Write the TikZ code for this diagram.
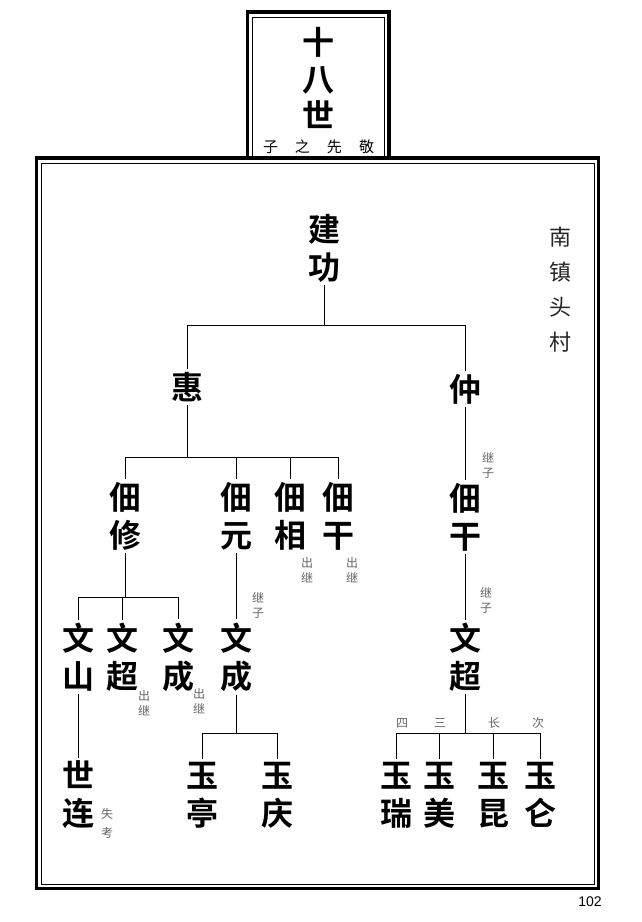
\documentclass[tikz,border=0pt]{standalone}
\usepackage{fontspec}
\newfontfamily\cjk{Noto Sans CJK SC}
\newfontfamily\cjkb{Noto Sans CJK SC Bold}
\newfontfamily\latinsans{Liberation Sans}
\begin{document}
\begin{tikzpicture}[x=1pt,y=-1pt,
  person/.style={font=\cjkb\fontsize{32}{38}\selectfont, align=center, inner sep=3pt},
  note/.style={font=\cjk\fontsize{12}{15}\selectfont, align=center, text=black!60, inner sep=0pt},
  village/.style={font=\cjk\fontsize{22}{35}\selectfont, align=center, inner sep=0pt, text=black!85},
  gen/.style={font=\cjkb\fontsize{32}{36.5}\selectfont, align=center, inner sep=0pt},
  conn/.style={line width=0.9pt},
  thickframe/.style={line width=3.5pt},
  thinframe/.style={line width=1pt}]
\useasboundingbox (0,0) rectangle (642,922);
% frames
\draw[thickframe] (36.7,158) rectangle (598.5,888.5);
\draw[thinframe] (41,163.5) rectangle (594.5,884);
\draw[thickframe] (247.5,158) -- (247.5,12) -- (389,12) -- (389,158);
\draw[thinframe] (252.5,157) -- (252.5,17) -- (384.5,17) -- (384.5,157);
% generation box
\node[gen] (gen) at (318,78) {十\\八\\世};
\node[font=\cjk\fontsize{15}{18}\selectfont, inner sep=0pt] (title) at (318.5,147) {子\hskip17pt 之\hskip17pt 先\hskip17pt 敬};
% village
\node[village] (village) at (560,290) {南\\镇\\头\\村};
% persons
\node[person] (jg) at (324,248) {建\\功};
\node[person] (hui) at (187,387) {惠};
\node[person] (zhong) at (465,389) {仲};
\node[person] (dx) at (125,516) {佃\\修};
\node[person] (dy) at (236,516) {佃\\元};
\node[person] (dxg) at (290,516) {佃\\相};
\node[person] (dg) at (338,516) {佃\\干};
\node[person] (dgr) at (465,517) {佃\\干};
\node[person] (ws) at (78,657) {文\\山};
\node[person] (wc) at (122,657) {文\\超};
\node[person] (wcg) at (178,657) {文\\成};
\node[person] (wcgr) at (236,657) {文\\成};
\node[person] (wcr) at (465,657) {文\\超};
\node[person] (sl) at (78,795) {世\\连};
\node[person] (yt) at (202,795) {玉\\亭};
\node[person] (yq) at (277,795) {玉\\庆};
\node[person] (yr) at (396,795) {玉\\瑞};
\node[person] (ym) at (439,795) {玉\\美};
\node[person] (yk) at (493,795) {玉\\昆};
\node[person] (yl) at (540,795) {玉\\仑};
% notes
\node[note] (n1) at (307,570) {出\\继};
\node[note] (n2) at (352,570) {出\\继};
\node[note] (n3) at (258,605) {继\\子};
\node[note] (n4) at (144,703) {出\\继};
\node[note] (n5) at (199,701) {出\\继};
\node[note, font=\cjk\fontsize{12}{19}\selectfont] (n6) at (107,823) {失\\考};
\node[note] (n7) at (488,465) {继\\子};
\node[note] (n8) at (486,600) {继\\子};
\node[note] (o4) at (402,723) {四};
\node[note] (o3) at (440,723) {三};
\node[note] (o1) at (494,723) {长};
\node[note] (o2) at (538,723) {次};
\node[font=\latinsans\fontsize{14}{16}\selectfont, inner sep=0pt] (page) at (590,902) {102};
% connectors
\coordinate (b1) at (324,325);
\draw[conn] (jg.south) -- (b1);
\draw[conn] (hui.north) -- (hui.north |- b1) -- (zhong.north |- b1) -- (zhong.north);
\coordinate (b2) at (187,457);
\draw[conn] (hui.south) -- (b2);
\draw[conn] (dx.north) -- (dx.north |- b2) -- (dg.north |- b2) -- (dg.north);
\draw[conn] (dy.north) -- (dy.north |- b2);
\draw[conn] (dxg.north) -- (dxg.north |- b2);
\draw[conn] (zhong.south) -- (dgr.north);
\coordinate (b3) at (125,597);
\draw[conn] (dx.south) -- (b3);
\draw[conn] (ws.north) -- (ws.north |- b3) -- (wcg.north |- b3) -- (wcg.north);
\draw[conn] (wc.north) -- (wc.north |- b3);
\draw[conn] (dy.south) -- (wcgr.north);
\draw[conn] (dgr.south) -- (wcr.north);
\draw[conn] (ws.south) -- (sl.north);
\coordinate (b4) at (236,733);
\draw[conn] (wcgr.south) -- (b4);
\draw[conn] (yt.north) -- (yt.north |- b4) -- (yq.north |- b4) -- (yq.north);
\coordinate (b5) at (465,733);
\draw[conn] (wcr.south) -- (b5);
\draw[conn] (yr.north) -- (yr.north |- b5) -- (yl.north |- b5) -- (yl.north);
\draw[conn] (ym.north) -- (ym.north |- b5);
\draw[conn] (yk.north) -- (yk.north |- b5);
\end{tikzpicture}
\end{document}
